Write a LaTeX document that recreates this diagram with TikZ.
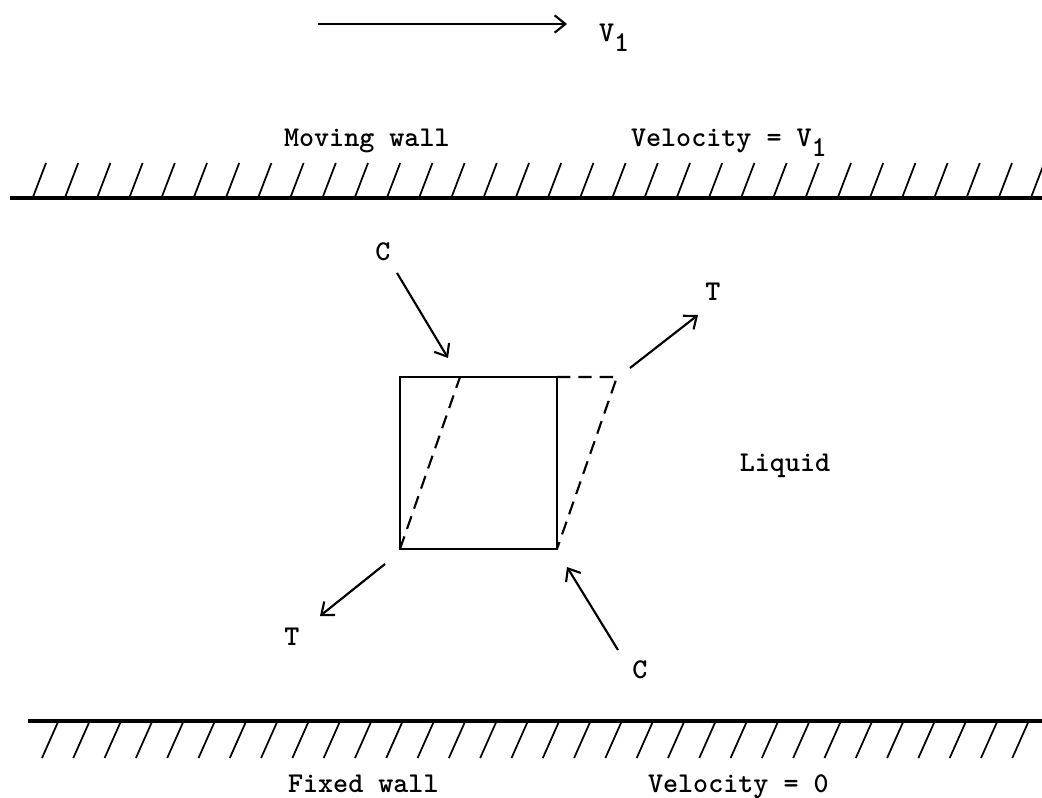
\documentclass[tikz,border=0pt]{standalone}
\usetikzlibrary{arrows.meta}
\newcommand{\lowone}{\raisebox{-0.32em}{1}}
\begin{document}
\begin{tikzpicture}[x=0.75pt,y=-0.75pt,line width=1.6pt,
  lbl/.style={font=\fontsize{21.5}{25}\selectfont\ttfamily\bfseries,inner sep=0pt},
  barb/.style={-{Straight Barb[length=8pt,width=13pt,line width=1.6pt]}},
  hatch/.style={line width=1.3pt},
  wall/.style={line width=2.4pt},
  dsh/.style={dash pattern=on 10pt off 6pt}]
\useasboundingbox (0,0) rectangle (1042,798);

% velocity arrow of the moving wall
\coordinate (va) at (318,24);
\coordinate (vb) at (567,24);
\draw[barb] (va) -- (vb);
\node[lbl,anchor=base west] (vlab) at (598,42) {V\lowone};

% moving wall
\node[lbl,anchor=base west] (mw) at (283,147) {Moving wall};
\node[lbl,anchor=base west] (mv) at (630,147) {Velocity = V\lowone};
\coordinate (tw1) at (10,198);
\coordinate (tw2) at (1042,198);
\draw[wall] (tw1) -- (tw2);
\foreach \i in {0,...,31}{
  \draw[hatch] (33+32.2*\i,197) -- ++(13,-34);
}

% element
\coordinate (sqtl) at (400,377);
\coordinate (sqtr) at (557,377);
\coordinate (sqbr) at (557,549);
\coordinate (sqbl) at (400,549);
\coordinate (ptl) at (460,377);
\coordinate (ptr) at (617,377);
\draw (sqtl) -- (sqtr) -- (sqbr) -- (sqbl) -- cycle;
\draw[dsh] (sqbl) -- (ptl);
\draw[dsh] (sqtr) -- (ptr) -- (sqbr);

% compression and tension arrows
\node[lbl] (c1) at (383,252) {C};
\coordinate (c1s) at (397,273);
\coordinate (c1e) at (448,358);
\draw[barb] (c1s) -- (c1e);

\node[lbl] (t1) at (713,292) {T};
\coordinate (t1s) at (630,368);
\coordinate (t1e) at (698,315);
\draw[barb] (t1s) -- (t1e);

\node[lbl] (t2) at (292,637) {T};
\coordinate (t2s) at (385,564);
\coordinate (t2e) at (320,616);
\draw[barb] (t2s) -- (t2e);

\node[lbl] (c2) at (640,670) {C};
\coordinate (c2s) at (618,650);
\coordinate (c2e) at (567,567);
\draw[barb] (c2s) -- (c2e);

\node[lbl] (liq) at (785,466) {Liquid};

% fixed wall
\coordinate (bw1) at (28,721);
\coordinate (bw2) at (1042,721);
\draw[wall] (bw1) -- (bw2);
\foreach \i in {0,...,31}{
  \draw[hatch] (58+31.3*\i,722) -- ++(-16,36);
}
\node[lbl,anchor=base west] (fw) at (287,792) {Fixed wall};
\node[lbl,anchor=base west] (fv) at (647,792) {Velocity = 0};
\end{tikzpicture}
\end{document}
